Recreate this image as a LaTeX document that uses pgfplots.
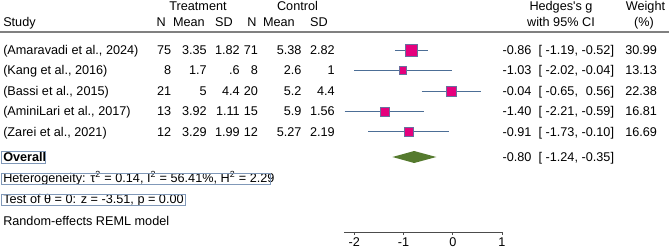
\documentclass[border=0pt]{standalone}
\usepackage{fontspec}
\setmainfont{Liberation Sans}
\usepackage{pgfplots}
\pgfplotsset{compat=1.18}
\definecolor{sqfill}{HTML}{E5007D}
\definecolor{sqdraw}{HTML}{6A6E9E}
\definecolor{ciline}{HTML}{4C6E96}
\definecolor{diam}{HTML}{557A2E}
\definecolor{boxc}{HTML}{8098B8}
\definecolor{hline}{HTML}{808080}
\newcommand{\fs}{\fontsize{9.5}{11}\selectfont}
\begin{document}
\begin{tikzpicture}
\begin{axis}[name=main, at={(0pt,0pt)}, anchor=north west, scale only axis,
  width=501.75pt, height=186.75pt, xmin=-9.212, xmax=4.377, ymin=0, ymax=249,
  y dir=reverse, hide axis, clip=false]
% confidence intervals
\addplot[ciline, line width=0.75pt] coordinates {(-1.19,50.3) (-0.52,50.3)};
\addplot[ciline, line width=0.75pt] coordinates {(-2.02,70.6) (-0.04,70.6)};
\addplot[ciline, line width=0.75pt] coordinates {(-0.65,91.2) (0.56,91.2)};
\addplot[ciline, line width=0.75pt] coordinates {(-2.21,111.6) (-0.59,111.6)};
\addplot[ciline, line width=0.75pt] coordinates {(-1.73,131.9) (-0.10,131.9)};
% point estimates (size ~ weight)
\addplot[only marks, mark=square*, mark size=4.49pt, mark options={fill=sqfill, draw=sqdraw, line width=0.6pt}] coordinates {(-0.86,50.3)};
\addplot[only marks, mark=square*, mark size=2.92pt, mark options={fill=sqfill, draw=sqdraw, line width=0.6pt}] coordinates {(-1.03,70.6)};
\addplot[only marks, mark=square*, mark size=3.81pt, mark options={fill=sqfill, draw=sqdraw, line width=0.6pt}] coordinates {(-0.04,91.2)};
\addplot[only marks, mark=square*, mark size=3.30pt, mark options={fill=sqfill, draw=sqdraw, line width=0.6pt}] coordinates {(-1.40,111.6)};
\addplot[only marks, mark=square*, mark size=3.29pt, mark options={fill=sqfill, draw=sqdraw, line width=0.6pt}] coordinates {(-0.91,131.9)};
% overall diamond
\addplot[fill=diam, draw=none] coordinates {(-1.24,157) (-0.80,151) (-0.35,157) (-0.80,163)} -- cycle;
\end{axis}

\begin{axis}[at={(258pt,-174pt)}, anchor=south west, scale only axis,
  width=118.5pt, height=5pt, xmin=-2.21, xmax=1, ymin=0, ymax=1,
  axis x line=bottom, axis y line=none, xtick={-2,-1,0,1},
  tick align=outside, major tick length=2.25pt,
  axis line style={black!70, line width=0.6pt, -}, tick style={black!70, line width=0.6pt},
  ticklabel style={font=\fs}, xticklabel style={yshift=1.8pt},
  /pgf/number format/assume math mode=true]
\addplot[draw=none] coordinates {(0,0)};
\end{axis}

\begin{scope}[x=0.75pt, y=-0.75pt, every node/.style={font=\fs, inner sep=0pt}]
\draw[hline, line width=1.2pt] (0,32) -- (669,32);
% headers
\node[anchor=base] at (198,10.5) {Treatment};
\node[anchor=base] at (297.5,10.5) {Control};
\node[anchor=base west] at (3,27) {Study};
\node[anchor=base east] at (166,27) {N};
\node[anchor=base east] at (205,27) {Mean};
\node[anchor=base east] at (233,27) {SD};
\node[anchor=base east] at (256.7,27) {N};
\node[anchor=base east] at (295,27) {Mean};
\node[anchor=base east] at (328,27) {SD};
\node[anchor=base] at (561,10.5) {Hedges\textquotesingle s g};
\node[anchor=base] at (561,27) {with 95\% CI};
\node[anchor=base] at (645.5,10.5) {Weight};
\node[anchor=base] at (644,27) {(\%)};
% rows
\foreach \yb/\st/\na/\ma/\sa/\nb/\mb/\sb/\g/\lo/\hi/\w in {
  54.5/{(Amaravadi et al., 2024)}/75/3.35/1.82/71/5.38/2.82/-0.86/-1.19/-0.52/30.99,
  74.9/{(Kang et al., 2016)}/8/1.7/.6/8/2.6/1/-1.03/-2.02/-0.04/13.13,
  95.3/{(Bassi et al., 2015)}/21/5/4.4/20/5.2/4.4/-0.04/-0.65/0.56/22.38,
  115.7/{(AminiLari et al., 2017)}/13/3.92/1.11/15/5.9/1.56/-1.40/-2.21/-0.59/16.81,
  136.1/{(Zarei et al., 2021)}/12/3.29/1.99/12/5.27/2.19/-0.91/-1.73/-0.10/16.69}{
  \node[anchor=base west] at (3,\yb) {\st};
  \node[anchor=base east] at (171.5,\yb) {\na};
  \node[anchor=base east] at (207,\yb) {\ma};
  \node[anchor=base east] at (240,\yb) {\sa};
  \node[anchor=base east] at (258.3,\yb) {\nb};
  \node[anchor=base east] at (301.7,\yb) {\mb};
  \node[anchor=base east] at (335,\yb) {\sb};
  \node[anchor=base east] at (531.7,\yb) {\g};
  \node[anchor=base east] at (578.3,\yb) {[ \lo,};
  \node[anchor=base east] at (614.3,\yb) {\hi]};
  \node[anchor=base east] at (657.3,\yb) {\w};
}
% overall
\node[anchor=base west] at (3,161.5) {\bfseries Overall};
\draw[boxc, line width=0.75pt] (1.5,152) rectangle (45,163.8);
\node[anchor=base east] at (531.7,161.2) {-0.80};
\node[anchor=base east] at (578.3,161.2) {[ -1.24,};
\node[anchor=base east] at (614.3,161.2) {-0.35]};
\node[anchor=base west] at (3,182.5) {Heterogeneity: τ\textsuperscript{2} = 0.14, I\textsuperscript{2} = 56.41\%, H\textsuperscript{2} = 2.29};
\draw[boxc, line width=0.75pt] (1.5,173.3) rectangle (270,184.3);
\node[anchor=base west] at (3,203.3) {Test of θ = 0: z = -3.51, p = 0.00};
\draw[boxc, line width=0.75pt] (1.5,194.3) rectangle (185,205.5);
\node[anchor=base west] at (3,225.5) {Random-effects REML model};
\end{scope}
\pgfresetboundingbox
\path (0pt,0pt) rectangle (501.75pt,-186.75pt);
\end{tikzpicture}
\end{document}
